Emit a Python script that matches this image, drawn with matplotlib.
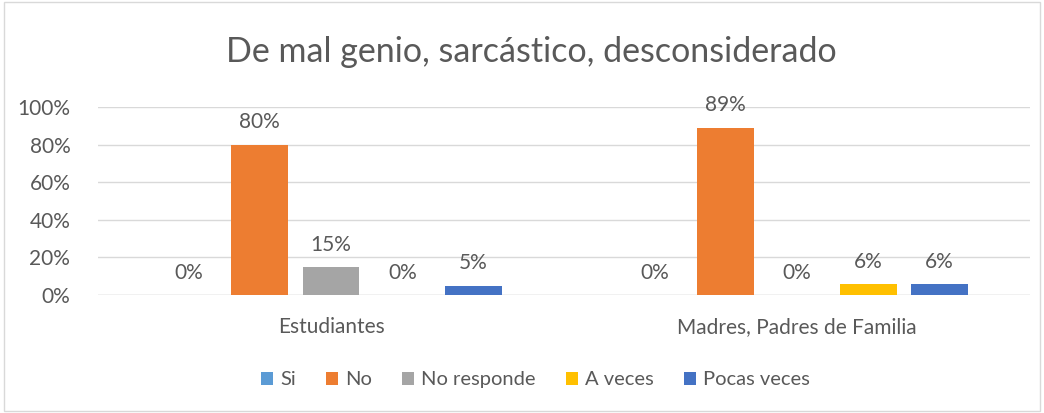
import numpy as np
import matplotlib.pyplot as plt
from matplotlib.patches import Rectangle

plt.rcParams['font.family'] = ['Lato', 'DejaVu Sans']

grupos = ["Estudiantes", "Madres, Padres de Familia"]
series = ["Si", "No", "No responde", "A veces", "Pocas veces"]
valores = [
    [0.00, 0.00],   # Si
    [0.80, 0.89],   # No
    [0.15, 0.00],   # No responde
    [0.00, 0.06],   # A veces
    [0.05, 0.06],   # Pocas veces
]
colores = ["#5B9BD5", "#ED7D31", "#A5A5A5", "#FFC000", "#4472C4"]
texto = "#595959"

fig = plt.figure(figsize=(10.44, 4.13), dpi=100)
ax = fig.add_axes([0.0939, 0.2857, 0.8927, 0.4553])

x = np.arange(len(grupos))
paso = 0.153
ancho = 0.122
for i, (nombre, vals, col) in enumerate(zip(series, valores, colores)):
    pos = x + (i - 2) * paso
    ax.bar(pos, vals, width=ancho, color=col, label=nombre, zorder=3)
    for p, v in zip(pos, vals):
        ax.text(p, v + 0.065, f"{v:.0%}", ha="center", va="bottom",
                fontsize=15, color=texto)

ax.set_xlim(-0.5, 1.5)
ax.set_ylim(0, 1)
ax.set_yticks(np.arange(0, 1.01, 0.2))
ax.set_yticklabels([f"{t:.0%}" for t in np.arange(0, 1.01, 0.2)])
ax.set_xticks(x)
ax.set_xticklabels(grupos)
ax.tick_params(axis="both", length=0, labelsize=15, colors=texto)
ax.tick_params(axis="x", pad=16)
ax.tick_params(axis="y", pad=20)
ax.grid(axis="y", color="#D9D9D9", linewidth=1, zorder=0)
for s in ax.spines.values():
    s.set_visible(False)
ax.axhline(0, color="#D9D9D9", linewidth=1, zorder=2)

fig.text(0.509, 0.875, "De mal genio, sarcástico, desconsiderado",
         ha="center", va="center", fontsize=24.5, color=texto)

fig.legend(loc="center", bbox_to_anchor=(0.513, 0.08), ncol=5, frameon=False,
           fontsize=14.5, labelcolor=texto, handlelength=0.6, handleheight=0.6,
           handletextpad=0.35, columnspacing=1.5)

fig.patches.append(Rectangle((0.004, 0.004), 0.992, 0.992, transform=fig.transFigure,
                             fill=False, edgecolor="#D9D9D9", linewidth=1))

fig.savefig("out.png", dpi=100)
